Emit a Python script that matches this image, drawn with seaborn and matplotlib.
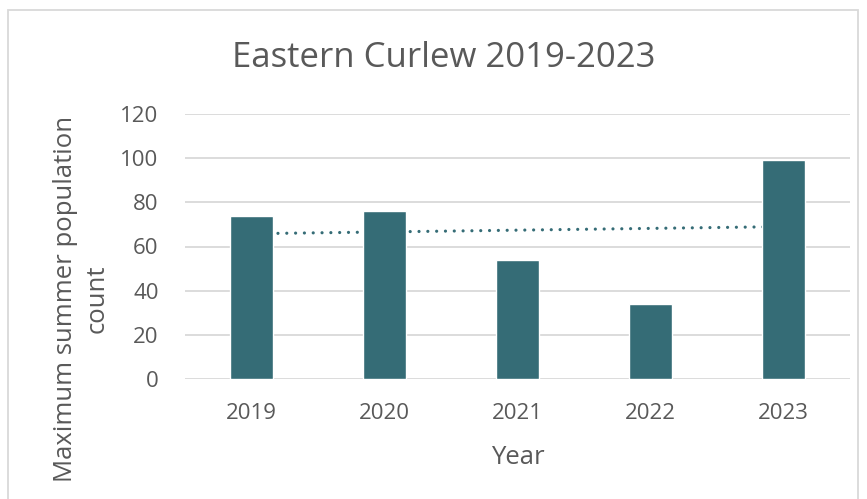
import numpy as np
import pandas as pd
import matplotlib
matplotlib.use("Agg")
import matplotlib.pyplot as plt
import seaborn as sns
from matplotlib.patches import Rectangle

years = ["2019", "2020", "2021", "2022", "2023"]
counts = [74, 76, 54, 34, 99]
title = "Eastern Curlew 2019-2023"
ylabel = "Maximum summer population\ncount"
xlabel = "Year"
yticks = [0, 20, 40, 60, 80, 100, 120]

sns.set_theme(style="white")
plt.rcParams['font.family'] = ['Open Sans', 'DejaVu Sans']

bar_color = "#356c76"
text_color = "#595959"

df = pd.DataFrame({"Year": years, "Count": counts})

W, H = 867, 499
fig = plt.figure(figsize=(W / 100, H / 100), dpi=100)
L, R, T, B = 185, 850, 114, 379
ax = fig.add_axes([L / W, 1 - B / H, (R - L) / W, (B - T) / H])

# linear trend line, drawn behind the bars
x = np.arange(len(counts))
coef = np.polyfit(x, counts, 1)
trend = np.polyval(coef, x)
ax.plot(x, trend, linestyle=(0, (0.01, 2.75)), linewidth=2.3, color=bar_color,
        zorder=1, dash_capstyle="round")

sns.barplot(data=df, x="Year", y="Count", color=bar_color, width=0.32,
            saturation=1, ax=ax, zorder=2)

ax.set_ylim(0, 120)
ax.set_yticks(yticks)
ax.set_xlim(-0.5, len(years) - 0.5)
ax.yaxis.grid(True, color="#d9d9d9", linewidth=1.3, zorder=0)
ax.set_axisbelow(True)
for s in ax.spines.values():
    s.set_visible(False)
ax.tick_params(axis="both", length=0, labelsize=16, colors=text_color)
ax.tick_params(axis="x", pad=17)
ax.tick_params(axis="y", pad=19)

ax.set_xlabel(xlabel, fontsize=18.5, color=text_color, va="center")
ax.xaxis.set_label_coords(0.5, (B - 457) / (B - T))
ax.set_ylabel(ylabel, fontsize=18.5, color=text_color, ha="center", va="center",
              linespacing=1.35)
ax.yaxis.set_label_coords((81.5 - L) / (R - L), (B - 298.5) / (B - T))

fig.text(444 / W, 1 - 58 / H, title, fontsize=25, color=text_color,
         ha="center", va="center")

fig.patches.append(Rectangle((8 / W, -20 / H), (858 - 8) / W, (H + 10) / H,
                             transform=fig.transFigure, fill=False,
                             edgecolor="#d9d9d9", linewidth=1.3))

fig.savefig("out.png", dpi=100)
